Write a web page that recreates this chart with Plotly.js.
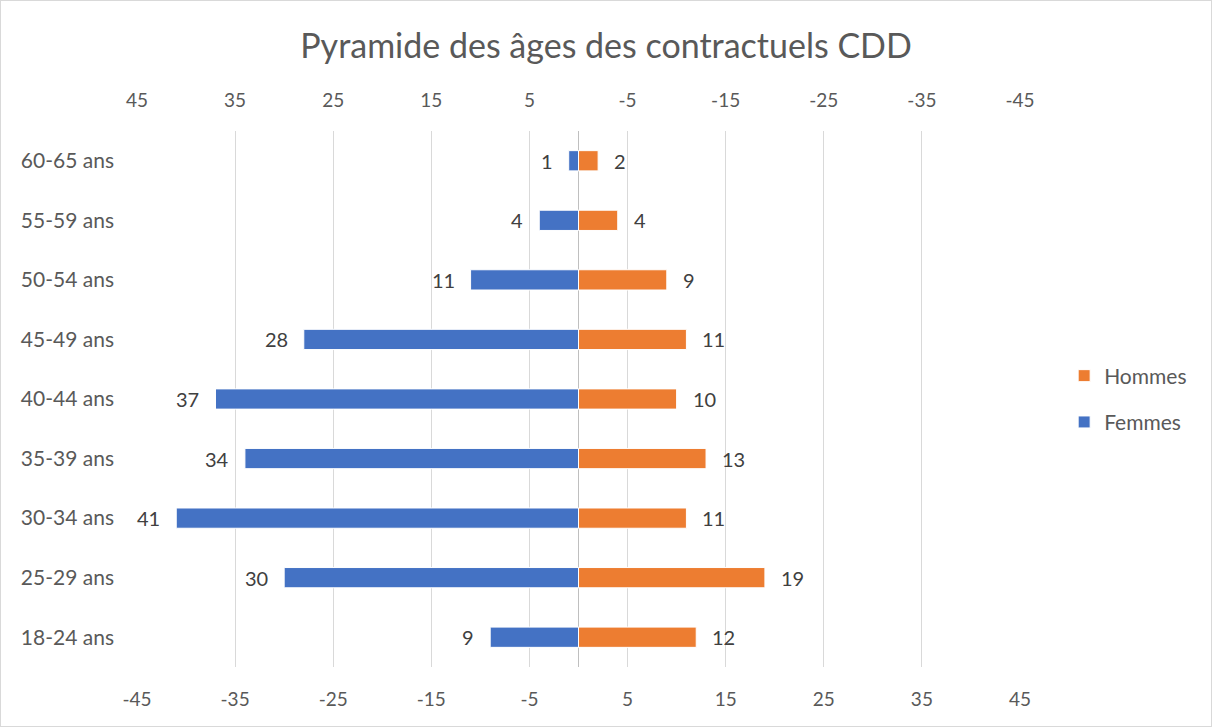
<!DOCTYPE html>
<html>
<head>
<meta charset="utf-8">
<script src="https://cdn.plot.ly/plotly-3.0.1.min.js"></script>
<style>
  html, body { margin: 0; padding: 0; background: #fff; }
  #chart { width: 1210px; height: 725px; border: 1px solid #d9d9d9; }
</style>
</head>
<body>
<div id="chart"></div>
<script>
const categories = ["18-24 ans", "25-29 ans", "30-34 ans", "35-39 ans", "40-44 ans", "45-49 ans", "50-54 ans", "55-59 ans", "60-65 ans"];
const femmes = [9, 30, 41, 34, 37, 28, 11, 4, 1];
const hommes = [12, 19, 11, 13, 10, 11, 9, 4, 2];
const tickVals = [-45, -35, -25, -15, -5, 5, 15, 25, 35, 45];

const FONT = "Lato, Liberation Sans, Arial, sans-serif";
const labelFont = { family: FONT, size: 20, color: "#404040" };
const tickFont = { family: FONT, size: 19, color: "#595959" };
const catFont = { family: FONT, size: 21, color: "#595959" };

const traces = [
  {
    type: "bar", orientation: "h", name: "Hommes", legendrank: 1, legendgroup: "h",
    y: categories, x: hommes, width: 0.34,
    marker: { color: "#ED7D31", line: { color: "#ffffff", width: 1 } },
    hoverinfo: "skip"
  },
  {
    type: "bar", orientation: "h", name: "Femmes", legendrank: 2, legendgroup: "f",
    y: categories, x: femmes.map(v => -v), width: 0.34,
    marker: { color: "#4472C4", line: { color: "#ffffff", width: 1 } },
    hoverinfo: "skip"
  },
  {
    type: "scatter", mode: "none", x: [0], y: [categories[0]], xaxis: "x2",
    showlegend: false, hoverinfo: "skip"
  }
];

const annotations = [];
categories.forEach((c, i) => {
  annotations.push({
    x: -femmes[i], y: c, xref: "x", yref: "y", text: String(femmes[i]),
    showarrow: false, xanchor: "right", yanchor: "middle", xshift: -14,
    font: labelFont
  });
  annotations.push({
    x: hommes[i], y: c, xref: "x", yref: "y", text: String(hommes[i]),
    showarrow: false, xanchor: "left", yanchor: "middle", xshift: 14,
    font: labelFont
  });
});

const layout = {
  width: 1210, height: 725,
  paper_bgcolor: "#ffffff", plot_bgcolor: "#ffffff",
  margin: { l: 136, r: 191, t: 130, b: 59 },
  barmode: "overlay",
  title: {
    text: "Pyramide des âges des contractuels CDD",
    font: { family: FONT, size: 34, color: "#595959" },
    x: 0.5, xref: "container", xanchor: "center", y: 0.938, yanchor: "middle"
  },
  xaxis: {
    range: [-45, 45], tickvals: tickVals, ticktext: tickVals.map(String),
    showgrid: true, gridcolor: "#d9d9d9", gridwidth: 1,
    zeroline: false, showline: false, ticks: "",
    tickfont: tickFont, ticklabelstandoff: 19, fixedrange: true
  },
  xaxis2: {
    overlaying: "x", side: "top", range: [45, -45],
    tickvals: tickVals, ticktext: tickVals.map(String),
    showgrid: false, zeroline: false, showline: false, ticks: "",
    tickfont: tickFont, ticklabelstandoff: 19, fixedrange: true
  },
  yaxis: {
    type: "category", categoryorder: "array", categoryarray: categories,
    showgrid: false, zeroline: false, showline: false, ticks: "",
    tickfont: catFont, ticklabelstandoff: 22, fixedrange: true
  },
  annotations: annotations,
  shapes: [
    { type: "line", xref: "x", yref: "paper", x0: 0, x1: 0, y0: 0, y1: 1,
      line: { color: "#bfbfbf", width: 1 }, layer: "below" }
  ],
  legend: {
    x: 1.05, xanchor: "left", y: 0.5, yanchor: "middle",
    traceorder: "grouped", tracegroupgap: 16,
    font: { family: FONT, size: 21, color: "#595959" },
    bgcolor: "rgba(0,0,0,0)"
  },
  showlegend: true
};

Plotly.newPlot("chart", traces, layout, { displayModeBar: false, staticPlot: true });
</script>
</body>
</html>
